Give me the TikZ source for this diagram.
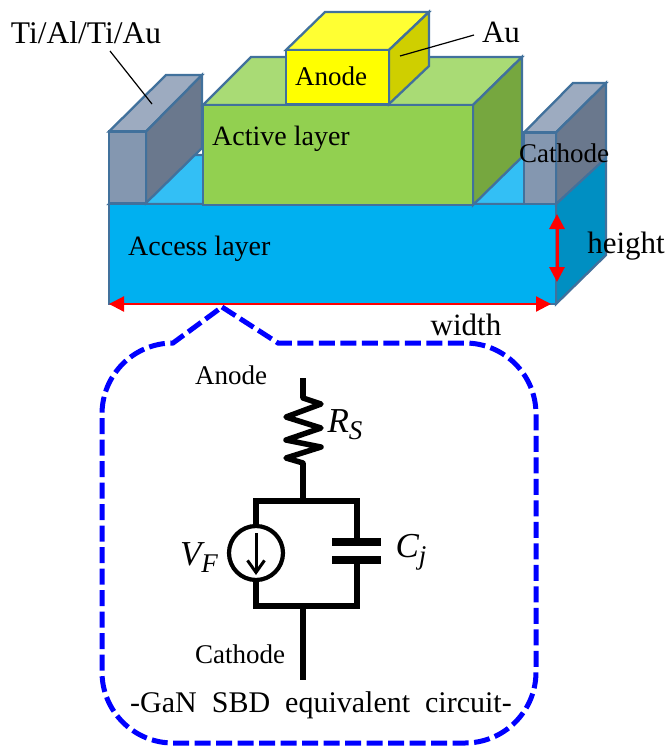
\documentclass[tikz,border=0pt]{standalone}
\usepackage{fontspec}
\setmainfont{Liberation Serif}
\usetikzlibrary{arrows.meta}
\definecolor{edgeblue}{HTML}{41719C}
\definecolor{basefront}{HTML}{00B0F0}
\definecolor{basetop}{HTML}{33BFF5}
\definecolor{baseside}{HTML}{008FC2}
\definecolor{actfront}{HTML}{92D050}
\definecolor{acttop}{HTML}{A9DB75}
\definecolor{actside}{HTML}{76A73F}
\definecolor{anfront}{HTML}{FFFF00}
\definecolor{antop}{HTML}{FFFF33}
\definecolor{anside}{HTML}{CFCF00}
\definecolor{elfront}{HTML}{8497B0}
\definecolor{eltop}{HTML}{9DABC0}
\definecolor{elside}{HTML}{6A788D}
\newcommand{\lblsize}[1]{\fontsize{#1}{#1}\selectfont}
\newcommand{\subtxt}[1]{\raisebox{-7pt}{\lblsize{27}#1}}
\tikzset{
  face/.style={draw=edgeblue,line width=2.3pt,line join=miter},
  lbl/.style={inner sep=0pt,font=\lblsize{27},text=black},
  biglbl/.style={inner sep=0pt,font=\lblsize{31},text=black},
  mathlbl/.style={inner sep=0pt,font=\lblsize{35}\itshape,text=black},
  leader/.style={draw=black,line width=1.2pt},
  redarrow/.style={draw=red,{Triangle[length=15pt,width=15pt]}-{Triangle[length=15pt,width=15pt]}},
  wire/.style={draw=black,line width=5.5pt,line join=miter},
  plate/.style={draw=black,line width=8pt},
  callout/.style={draw=blue,line width=5pt,dash pattern=on 16pt off 5.5pt}
}
\begin{document}
\begin{tikzpicture}[x=1pt,y=-1pt]
\useasboundingbox (0,0) rectangle (669,748);
% base block
\path[face,fill=basetop] (109,204) -- (159,155) -- (606,155) -- (556,204) -- cycle;
\path[face,fill=baseside] (556,204) -- (606,155) -- (606,255) -- (556,304) -- cycle;
\path[face,fill=basefront] (109,204) rectangle (556,304);
% left electrode
\path[face,fill=eltop] (109,131.5) -- (166,75) -- (202,75) -- (146,131.5) -- cycle;
\path[face,fill=elside] (146,131.5) -- (202,75) -- (202,148) -- (146,203) -- cycle;
\path[face,fill=elfront] (109,131.5) rectangle (146,203);
% right electrode
\path[face,fill=eltop] (524,132.5) -- (573,83) -- (606,83) -- (556,132.5) -- cycle;
\path[face,fill=elside] (556,132.5) -- (606,83) -- (606,158) -- (556,204) -- cycle;
\path[face,fill=elfront] (524,132.5) rectangle (556,204);
% active layer
\path[face,fill=acttop] (203,105) -- (251,57) -- (522,57) -- (473,105) -- cycle;
\path[face,fill=actside] (473,105) -- (522,57) -- (522,157) -- (473,205) -- cycle;
\path[face,fill=actfront] (203,105) rectangle (473,205);
% anode
\path[face,fill=antop] (286,50) -- (325,12) -- (429,12) -- (389,50) -- cycle;
\path[face,fill=anside] (389,50) -- (429,12) -- (429,66) -- (389,104) -- cycle;
\path[face,fill=anfront] (286,50) rectangle (389,104);
% dimension arrows
\coordinate (wl) at (109,304);
\coordinate (wr) at (551,304);
\coordinate (ht) at (557,214);
\coordinate (hb) at (557,282);
\draw[redarrow,line width=2.2pt] (wl) -- (wr);
\draw[redarrow,line width=3pt] (ht) -- (hb);
% labels of the device
\node[biglbl,font=\lblsize{31.5}] (tilabel) at (86,33) {Ti/Al/Ti/Au};
\node[biglbl] (aulabel) at (501,32) {Au};
\node[lbl] (anodetop) at (331,76) {Anode};
\node[lbl,anchor=west,font=\lblsize{28}] (active) at (212,139) {Active layer};
\node[lbl,anchor=west,font=\lblsize{28}] (access) at (128,249) {Access layer};
\node[lbl] (cathodetop) at (564,153) {Cathode};
\node[biglbl] (heightlabel) at (626,246) {height};
\node[biglbl] (widthlabel) at (466,325) {width};
\coordinate (tiend) at (152,104);
\coordinate (tistart) at (110,51);
\coordinate (auend) at (400,56);
\coordinate (austart) at (474,35);
\draw[leader] (tistart) -- (tiend);
\draw[leader] (austart) -- (auend);
% callout outline
\draw[callout] (222,307) -- (278,343) -- (465,343)
  arc[start angle=-90,end angle=0,x radius=71pt,y radius=-71pt]
  -- (536,672)
  arc[start angle=0,end angle=90,x radius=71pt,y radius=-71pt]
  -- (173,743)
  arc[start angle=90,end angle=180,x radius=71pt,y radius=-71pt]
  -- (102,414)
  arc[start angle=180,end angle=270,x radius=71pt,y radius=-71pt]
  -- cycle;
% circuit
\coordinate (top) at (303,378);
\coordinate (r0) at (303,398);
\coordinate (r1) at (321,404);
\coordinate (r2) at (286,417);
\coordinate (r3) at (321,428);
\coordinate (r4) at (286,440);
\coordinate (r5) at (321,447);
\coordinate (r6) at (286,458);
\coordinate (r7) at (303,463);
\coordinate (jt) at (303,501);
\coordinate (jb) at (303,606);
\coordinate (bot) at (303,680);
\coordinate (tl) at (256,501);
\coordinate (tr) at (357,501);
\coordinate (bl) at (256,606);
\coordinate (br) at (357,606);
\node[circle,draw=black,line width=4.2pt,minimum size=54pt,inner sep=0pt,fill=white] (src) at (256,553) {};
\coordinate (c1) at (357,542);
\coordinate (c2) at (357,560);
\coordinate (c1a) at (332,542);
\coordinate (c1b) at (381,542);
\coordinate (c2a) at (332,560);
\coordinate (c2b) at (381,560);
\coordinate (ai) at (256,533);
\coordinate (aj) at (256,575);
\draw[wire,line cap=butt] (top) -- (r0);
\draw[wire,line join=round,line cap=round] (r0) -- (r1) -- (r2) -- (r3) -- (r4) -- (r5) -- (r6) -- (r7);
\draw[wire] (r7) -- (jt);
\draw[wire] (src.north) -- (tl) -- (tr) -- (c1);
\draw[wire] (src.south) -- (bl) -- (br) -- (c2);
\draw[wire] (jb) -- (bot);
\draw[plate] (c1a) -- (c1b);
\draw[plate] (c2a) -- (c2b);
\draw[draw=black,line width=3pt,-{Straight Barb[length=12pt,width=17pt,line width=3pt]}] (ai) -- (aj);
\node[mathlbl] (rs) at (345,425) {R\subtxt{S}};
\node[mathlbl] (vf) at (199,558) {V\subtxt{F}};
\node[mathlbl] (cj) at (411,552) {C\subtxt{j}};
\node[lbl] (anodec) at (231,375) {Anode};
\node[lbl] (cathodec) at (240,654) {Cathode};
\node[lbl,font=\lblsize{30}] (caption) at (321,705) {-GaN\hspace{15pt}SBD\hspace{15pt}equivalent\hspace{15pt}circuit-};
\end{tikzpicture}
\end{document}
